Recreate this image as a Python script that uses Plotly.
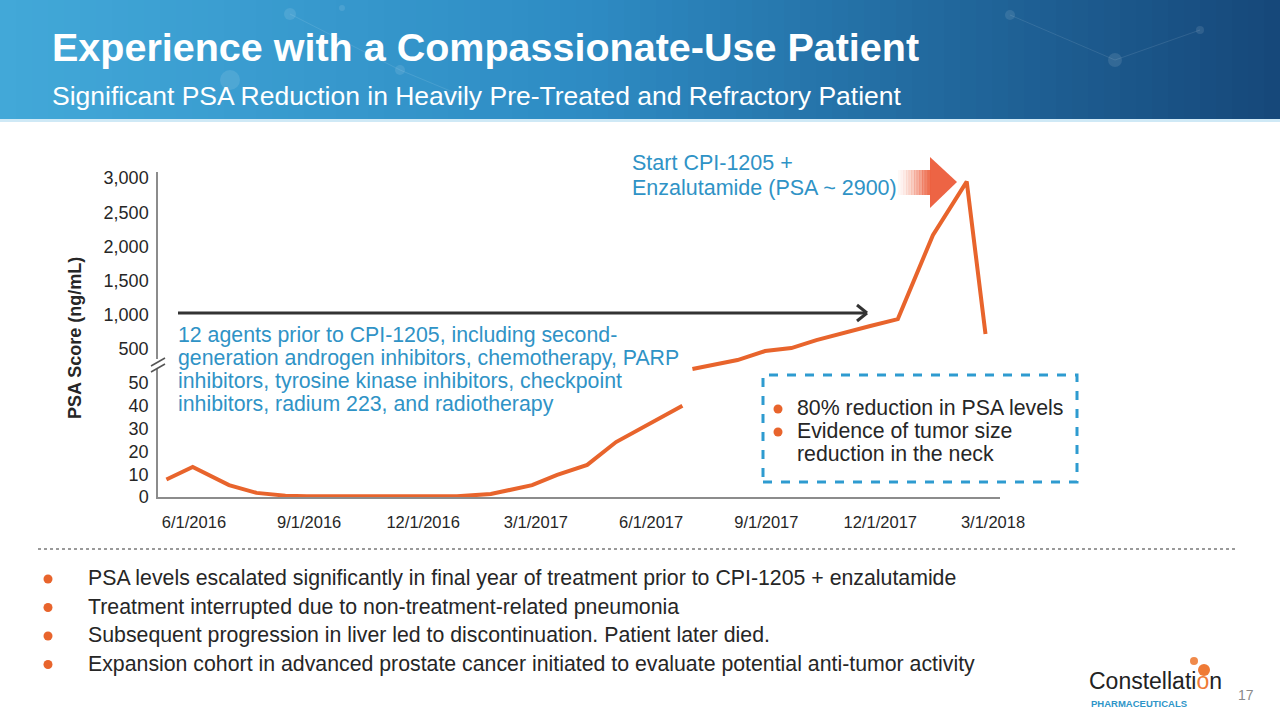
import plotly.graph_objects as go

W, H = 1280, 720

# ---------------- data ----------------
pre_dates = ["2016-05-10", "2016-05-31", "2016-06-29", "2016-07-21", "2016-08-13",
             "2016-08-30", "2016-09-28", "2016-10-27", "2016-11-28", "2016-12-28",
             "2017-01-24", "2017-02-26", "2017-03-18", "2017-04-11", "2017-05-04",
             "2017-05-31", "2017-06-26"]
pre_psa = [7.7, 13.2, 5.2, 1.8, 0.6, 0.3, 0.3, 0.3, 0.3, 0.3,
           1.3, 5.2, 9.7, 14.1, 24.1, 32.0, 40.0]

post_dates = ["2017-07-04", "2017-08-09", "2017-08-31", "2017-09-21", "2017-10-11",
              "2017-11-03", "2017-11-23", "2017-12-15", "2018-01-12", "2018-02-08",
              "2018-02-23"]
post_psa = [205, 336, 468, 512, 629, 732, 834, 936, 2165, 2950, 717]

x_tick_vals = ["2016-06-01", "2016-09-01", "2016-12-01", "2017-03-01",
               "2017-06-01", "2017-09-01", "2017-12-01", "2018-03-01"]
x_tick_text = ["6/1/2016", "9/1/2016", "12/1/2016", "3/1/2017",
               "6/1/2017", "9/1/2017", "12/1/2017", "3/1/2018"]

low_tick_vals = [0, 10, 20, 30, 40, 50]
low_tick_text = ["0", "10", "20", "30", "40", "50"]
up_tick_vals = [500, 1000, 1500, 2000, 2500, 3000]
up_tick_text = ["500", "1,000", "1,500", "2,000", "2,500", "3,000"]

title = "Experience with a Compassionate-Use Patient"
subtitle = "Significant PSA Reduction in Heavily Pre-Treated and Refractory Patient"
start_note = ["Start CPI-1205 +", "Enzalutamide (PSA ~ 2900)"]
agents_note = ["12 agents prior to CPI-1205, including second-",
               "generation androgen inhibitors, chemotherapy, PARP",
               "inhibitors, tyrosine kinase inhibitors, checkpoint",
               "inhibitors, radium 223, and radiotherapy"]
box_bullets = [("80% reduction in PSA levels", True),
               ("Evidence of tumor size", True),
               ("reduction in the neck", False)]
bottom_bullets = [
    "PSA levels escalated significantly in final year of treatment prior to CPI-1205 + enzalutamide",
    "Treatment interrupted due to non-treatment-related pneumonia",
    "Subsequent progression in liver led to discontinuation. Patient later died.",
    "Expansion cohort in advanced prostate cancer initiated to evaluate potential anti-tumor activity",
]

# ---------------- styling helpers ----------------
FONT = "Liberation Sans, Arial, sans-serif"
ORANGE = "#e8642c"
BLUE = "#2f93c6"
DARK = "#262626"


def px(x):
    return x / W


def py(y):
    return 1 - y / H


fig = go.Figure()

fig.add_trace(go.Scatter(x=pre_dates, y=pre_psa, mode="lines", xaxis="x", yaxis="y",
                         line=dict(color=ORANGE, width=4), hoverinfo="skip", showlegend=False))
fig.add_trace(go.Scatter(x=post_dates, y=post_psa, mode="lines", xaxis="x", yaxis="y2",
                         line=dict(color=ORANGE, width=4), hoverinfo="skip", showlegend=False))

shapes = []
annotations = []

# header gradient
stops = [(0.0, (66, 168, 216)), (0.45, (46, 140, 196)), (1.0, (22, 72, 122))]


def grad(t):
    for (t0, c0), (t1, c1) in zip(stops[:-1], stops[1:]):
        if t0 <= t <= t1:
            f = (t - t0) / (t1 - t0)
            return "rgb(%d,%d,%d)" % tuple(round(a + (b - a) * f) for a, b in zip(c0, c1))
    return "rgb(%d,%d,%d)" % stops[-1][1]


N = 80
for i in range(N):
    x0 = i * W / N
    x1 = (i + 1) * W / N + 1
    shapes.append(dict(type="rect", xref="paper", yref="paper", x0=px(x0), x1=px(x1),
                       y0=py(120), y1=py(0), fillcolor=grad(i / (N - 1)),
                       line=dict(width=0), layer="below"))
shapes.append(dict(type="rect", xref="paper", yref="paper", x0=0, x1=1,
                   y0=py(122), y1=py(119), fillcolor="#cfe9f6", line=dict(width=0), layer="below"))

# faint network decoration in header
for (cx, cy, r) in [(290, 14, 6), (400, 70, 5), (342, 8, 3), (230, 80, 10), (460, 95, 4),
                    (1010, 15, 5), (1115, 60, 7), (1200, 30, 4)]:
    shapes.append(dict(type="circle", xref="paper", yref="paper",
                       x0=px(cx - r), x1=px(cx + r), y0=py(cy + r), y1=py(cy - r),
                       fillcolor="rgba(255,255,255,0.10)", line=dict(width=0), layer="below"))
for (a, b) in [((290, 14), (400, 70)), ((400, 70), (460, 95)), ((1010, 15), (1115, 60)),
               ((1115, 60), (1200, 30))]:
    shapes.append(dict(type="line", xref="paper", yref="paper",
                       x0=px(a[0]), y0=py(a[1]), x1=px(b[0]), y1=py(b[1]),
                       line=dict(color="rgba(255,255,255,0.10)", width=1), layer="below"))

# axis break marker
shapes.append(dict(type="rect", xref="paper", yref="paper", x0=px(150), x1=px(167),
                   y0=py(369), y1=py(359), fillcolor="white", line=dict(width=0)))
for off in (0, 6):
    shapes.append(dict(type="line", xref="paper", yref="paper",
                       x0=px(151), y0=py(366 + off), x1=px(165), y1=py(358 + off),
                       line=dict(color="#555555", width=1.5)))

# long black arrow
shapes.append(dict(type="line", xref="paper", yref="paper", x0=px(178), y0=py(313),
                   x1=px(866), y1=py(313), line=dict(color="#333333", width=3)))
for dy in (-8, 8):
    shapes.append(dict(type="line", xref="paper", yref="paper", x0=px(857), y0=py(313 + dy),
                       x1=px(867), y1=py(313), line=dict(color="#333333", width=3)))

# red fading arrow
strips = 12
for i in range(strips):
    xa = 898 + i * 32 / strips
    xb = 898 + (i + 1) * 32 / strips + 0.5
    op = 0.02 + 0.85 * ((i + 1) / strips) ** 1.5
    shapes.append(dict(type="rect", xref="paper", yref="paper", x0=px(xa), x1=px(xb),
                       y0=py(195), y1=py(170), fillcolor="rgba(236,92,58,%.3f)" % op,
                       line=dict(width=0)))
shapes.append(dict(type="path", xref="paper", yref="paper",
                   path="M %f,%f L %f,%f L %f,%f Z" % (px(930), py(157), px(957), py(182),
                                                      px(930), py(208)),
                   fillcolor="rgba(236,92,58,0.95)", line=dict(width=0)))

# dashed box
shapes.append(dict(type="rect", xref="paper", yref="paper", x0=px(763), x1=px(1077),
                   y0=py(482), y1=py(375), line=dict(color="#2e9bd0", width=3, dash="dash"),
                   fillcolor="rgba(0,0,0,0)"))

# dotted separator
shapes.append(dict(type="line", xref="paper", yref="paper", x0=px(38), x1=px(1235),
                   y0=py(549), y1=py(549), line=dict(color="#9a9a9a", width=2, dash="dot")))

# logo balls
for (cx, cy, r, c) in [(1194, 661, 4, "#f08a4b"), (1204, 670, 6, "#ef7a36")]:
    shapes.append(dict(type="circle", xref="paper", yref="paper",
                       x0=px(cx - r), x1=px(cx + r), y0=py(cy + r), y1=py(cy - r),
                       fillcolor=c, line=dict(width=0)))


def dot(cx, cy, r=4.5):
    shapes.append(dict(type="circle", xref="paper", yref="paper",
                       x0=px(cx - r), x1=px(cx + r), y0=py(cy + r), y1=py(cy - r),
                       fillcolor=ORANGE, line=dict(width=0)))


def text(x, y, s, size, color, bold=False, xanchor="left", angle=0):
    annotations.append(dict(xref="paper", yref="paper", x=px(x), y=py(y), text=("<b>%s</b>" % s) if bold else s,
                            showarrow=False, xanchor=xanchor, yanchor="middle", textangle=angle,
                            font=dict(family=FONT, size=size, color=color)))


text(50, 47, title, 39.5, "white", bold=True)
text(50, 96, subtitle, 26.5, "white")

for i, s in enumerate(start_note):
    text(630, 163 + 25 * i, s, 21.5, BLUE)
for i, s in enumerate(agents_note):
    text(176, 335 + 23 * i, s, 21.3, BLUE)

for i, (s, b) in enumerate(box_bullets):
    yy = 408 + 23 * i
    if b:
        dot(778, yy + 1)
    text(795, yy, s, 21.3, DARK)

for i, s in enumerate(bottom_bullets):
    yy = 578 + 28.5 * i
    dot(48, yy + 1)
    text(86, yy, s, 21.3, DARK)

text(75, 338, "PSA Score (ng/mL)", 18, DARK, bold=True, xanchor="center", angle=-90)

text(1087, 681, "Constellati<span style='color:#ef7a36'>o</span>n", 23, "#222222")
text(1089, 703, "PHARMACEUTICALS", 9.5, "#2e95c8", bold=True)
text(1246, 695, "17", 14, "#8a8a8a", xanchor="center")

axis_common = dict(showline=True, linecolor="#8c8c8c", linewidth=1.5, showgrid=False,
                   zeroline=False, ticks="", tickfont=dict(family=FONT, size=18, color=DARK),
                   fixedrange=True, automargin=False)

fig.update_layout(
    width=W, height=H,
    margin=dict(l=0, r=0, t=0, b=0),
    paper_bgcolor="white", plot_bgcolor="rgba(0,0,0,0)",
    showlegend=False,
    xaxis=dict(domain=[px(158), px(1000)], anchor="y",
               range=["2016-05-03 07:00", "2018-03-06 14:00"], type="date",
               tickmode="array", tickvals=x_tick_vals, ticktext=x_tick_text,
               showline=True, linecolor="#8c8c8c", linewidth=2, showgrid=False, zeroline=False,
               ticks="", ticklabelstandoff=9, tickfont=dict(family=FONT, size=16.5, color=DARK),
               fixedrange=True, automargin=False),
    yaxis=dict(domain=[py(497), py(383)], range=[0, 50], anchor="x",
               tickmode="array", tickvals=low_tick_vals, ticktext=low_tick_text,
               ticklabelstandoff=4, **axis_common),
    yaxis2=dict(domain=[py(383), py(172)], range=[0, 3090], anchor="x",
                tickmode="array", tickvals=up_tick_vals, ticktext=up_tick_text,
                ticklabelstandoff=4, **axis_common),
    shapes=shapes,
    annotations=annotations,
)

fig.write_html("out.html")
